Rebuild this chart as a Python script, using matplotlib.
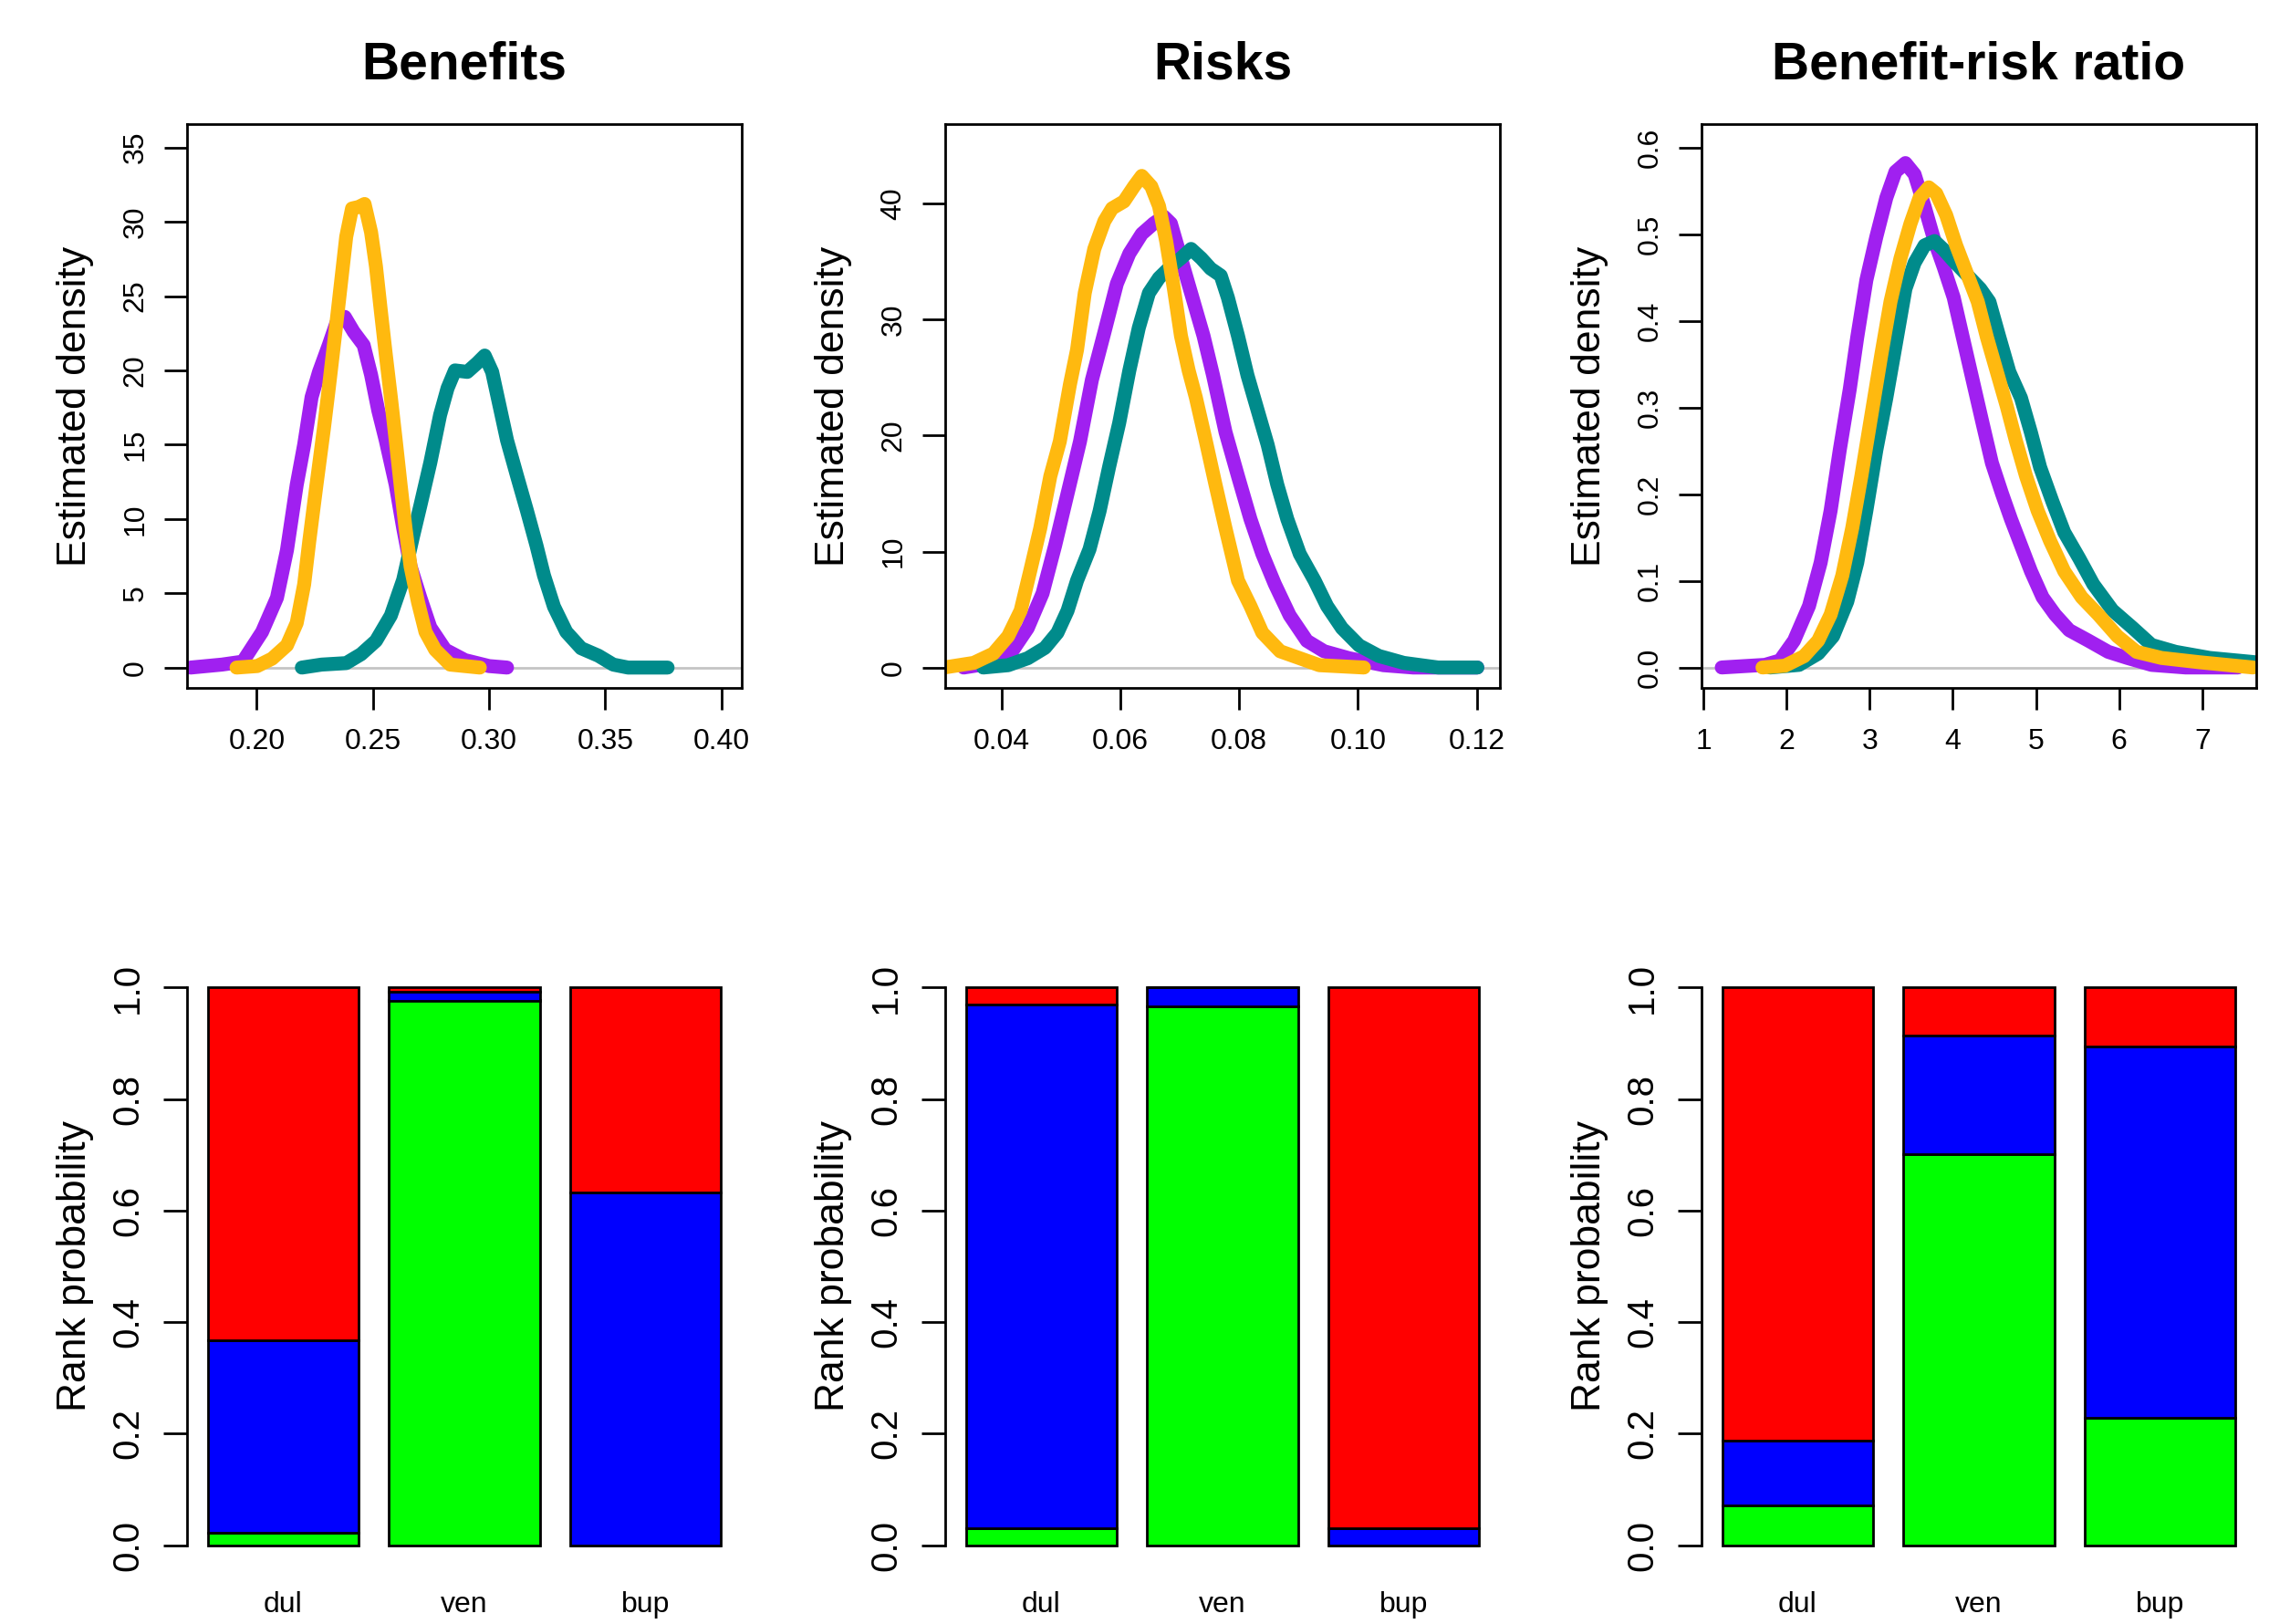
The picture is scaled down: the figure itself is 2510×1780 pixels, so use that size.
import numpy as np
import matplotlib
matplotlib.use("Agg")
import matplotlib.pyplot as plt

plt.rcParams['font.family'] = ['Liberation Sans', 'DejaVu Sans']

PURPLE = '#A020F0'
ORANGE = '#FFB90F'
TEAL = '#008B8B'

titles = ["Benefits", "Risks", "Benefit-risk ratio"]
treatments = ["dul", "ven", "bup"]

# --- density curves ---
ben_x_purple = [0.1715, 0.185, 0.194, 0.2023, 0.2087, 0.213, 0.2172, 0.2204, 0.2236, 0.2268, 0.231, 0.2343, 0.2379,
                0.2417, 0.246, 0.2492, 0.2523, 0.2555, 0.2598, 0.263, 0.2662, 0.2704, 0.2747, 0.2811, 0.2896, 0.30, 0.3077]
ben_y_purple = [0, 0.2, 0.4, 2.4, 4.7, 7.9, 12.3, 15.0, 18.2, 19.9, 21.7, 23.2, 23.6,
                22.6, 21.7, 19.7, 17.3, 15.3, 12.3, 9.4, 6.8, 4.7, 2.7, 1.2, 0.5, 0.1, 0]
ben_x_orange = [0.1913, 0.2002, 0.2066, 0.213, 0.2172, 0.2204, 0.2226, 0.2257, 0.2289, 0.231, 0.2343, 0.2364, 0.2385,
                0.241, 0.2438, 0.2464, 0.2492, 0.2513, 0.2534, 0.2555, 0.2577, 0.2598, 0.2619, 0.264, 0.2662, 0.2694,
                0.2726, 0.2768, 0.2832, 0.296]
ben_y_orange = [0, 0.1, 0.6, 1.5, 3.0, 5.6, 8.5, 12.3, 16.1, 18.8, 23.2, 26.1, 29.0,
                30.9, 31.0, 31.2, 29.3, 27.0, 24.0, 21.1, 18.2, 15.3, 12.3, 9.4, 6.8, 4.4,
                2.4, 1.2, 0.2, 0]
ben_x_teal = [0.2194, 0.2279, 0.2385, 0.2449, 0.2513, 0.2577, 0.263, 0.2672, 0.2704, 0.2747, 0.2789, 0.2821, 0.2853,
              0.2906, 0.2949, 0.2981, 0.3013, 0.3045, 0.3077, 0.312, 0.3162, 0.3204, 0.3236, 0.3279, 0.3332, 0.3396,
              0.347, 0.3534, 0.3598, 0.3768]
ben_y_teal = [0, 0.2, 0.3, 0.9, 1.8, 3.5, 5.9, 8.8, 10.9, 13.8, 17.0, 18.8, 20.0,
              19.9, 20.5, 21.0, 19.9, 17.6, 15.3, 12.9, 10.6, 8.2, 6.2, 4.1, 2.4, 1.3,
              0.8, 0.2, 0, 0]

risk_x_orange = [0.0303, 0.0353, 0.0386, 0.0411, 0.0432, 0.0448, 0.0465, 0.0482, 0.0498, 0.0515, 0.0527, 0.054,
                 0.0556, 0.0573, 0.0586, 0.0606, 0.0623, 0.0636, 0.0652, 0.0665, 0.0677, 0.069, 0.0702, 0.0715,
                 0.0727, 0.0744, 0.076, 0.0777, 0.0798, 0.0819, 0.0839, 0.0869, 0.0902, 0.0935, 0.101]
risk_y_orange = [0, 0.4, 1.2, 2.7, 4.9, 8.3, 12.0, 16.5, 19.5, 24.4, 27.4, 32.3,
                 36.1, 38.5, 39.6, 40.2, 41.5, 42.4, 41.5, 39.8, 36.8, 32.7, 28.6, 25.6,
                 23.3, 19.5, 15.8, 12.0, 7.5, 5.3, 3.0, 1.4, 0.8, 0.2, 0]
risk_x_purple = [0.0336, 0.0386, 0.0419, 0.0444, 0.0469, 0.049, 0.0511, 0.0532, 0.0552, 0.0573, 0.0594, 0.0615,
                 0.0636, 0.0656, 0.0673, 0.0685, 0.0702, 0.0723, 0.074, 0.0756, 0.0777, 0.0798, 0.0819, 0.0839,
                 0.086, 0.0885, 0.0914, 0.0943, 0.0985, 0.1043, 0.1093, 0.1201]
risk_y_purple = [0, 0.4, 1.5, 3.4, 6.4, 10.5, 15.0, 19.5, 24.8, 28.9, 33.1, 35.7,
                 37.4, 38.3, 38.9, 38.3, 35.3, 31.6, 28.6, 25.2, 20.3, 16.5, 12.8, 9.8,
                 7.2, 4.5, 2.3, 1.4, 0.8, 0.2, 0, 0]
risk_x_teal = [0.0369, 0.0411, 0.0444, 0.0473, 0.0494, 0.0511, 0.0527, 0.0548, 0.0565, 0.0581, 0.0598, 0.0615,
               0.0631, 0.0648, 0.0665, 0.0685, 0.0702, 0.0719, 0.0736, 0.0752, 0.0769, 0.0781, 0.0798, 0.0814,
               0.0831, 0.0848, 0.0864, 0.0881, 0.0902, 0.0927, 0.0948, 0.0973, 0.1002, 0.1035, 0.1077, 0.1135, 0.1201]
risk_y_teal = [0, 0.2, 0.8, 1.7, 3.0, 4.9, 7.5, 10.2, 13.5, 17.3, 21.1, 25.6,
               29.3, 32.3, 33.6, 34.6, 35.3, 36.1, 35.3, 34.4, 33.8, 31.9, 28.6, 25.2,
               22.2, 19.2, 15.8, 12.8, 9.8, 7.5, 5.3, 3.4, 1.9, 1.0, 0.4, 0, 0]

ratio_x_purple = [1.22, 1.74, 1.92, 2.09, 2.27, 2.41, 2.53, 2.64, 2.76, 2.85, 2.96, 3.08, 3.20, 3.31, 3.43, 3.54,
                  3.66, 3.78, 3.89, 4.01, 4.12, 4.24, 4.36, 4.47, 4.59, 4.70, 4.82, 4.94, 5.08, 5.23, 5.40, 5.63,
                  5.87, 6.10, 6.39, 6.80, 7.43]
ratio_y_purple = [0, 0.003, 0.008, 0.031, 0.071, 0.121, 0.181, 0.251, 0.321, 0.381, 0.447, 0.497, 0.542, 0.572,
                  0.582, 0.569, 0.532, 0.492, 0.462, 0.427, 0.381, 0.331, 0.281, 0.236, 0.201, 0.171, 0.141,
                  0.111, 0.081, 0.061, 0.043, 0.031, 0.018, 0.011, 0.003, 0, 0]
ratio_x_orange = [1.71, 1.98, 2.21, 2.38, 2.53, 2.67, 2.79, 2.90, 3.02, 3.14, 3.25, 3.37, 3.49, 3.60, 3.71, 3.80,
                  3.92, 4.04, 4.18, 4.30, 4.41, 4.53, 4.65, 4.76, 4.88, 5.02, 5.17, 5.34, 5.55, 5.75, 5.98, 6.21,
                  6.51, 6.97, 7.61]
ratio_y_orange = [0, 0.002, 0.013, 0.031, 0.061, 0.106, 0.161, 0.221, 0.291, 0.361, 0.422, 0.472, 0.512, 0.542,
                  0.554, 0.547, 0.522, 0.487, 0.452, 0.422, 0.381, 0.341, 0.301, 0.261, 0.221, 0.181, 0.146,
                  0.111, 0.081, 0.061, 0.036, 0.018, 0.011, 0.006, 0]
ratio_x_teal = [1.80, 2.15, 2.38, 2.56, 2.73, 2.85, 2.96, 3.08, 3.20, 3.31, 3.43, 3.54, 3.66, 3.78, 3.89, 4.01,
                4.18, 4.33, 4.44, 4.56, 4.68, 4.82, 4.94, 5.05, 5.20, 5.34, 5.52, 5.69, 5.92, 6.16, 6.39, 6.68,
                7.09, 7.64]
ratio_y_teal = [0, 0.003, 0.016, 0.036, 0.076, 0.121, 0.181, 0.251, 0.311, 0.371, 0.437, 0.467, 0.487, 0.492,
                0.482, 0.469, 0.452, 0.437, 0.422, 0.381, 0.341, 0.311, 0.271, 0.231, 0.191, 0.156, 0.126,
                0.096, 0.066, 0.046, 0.026, 0.018, 0.011, 0.006]

# --- rank probabilities (rank 1 green, rank 2 blue, rank 3 red), per treatment dul/ven/bup ---
ben_rank1 = [0.022, 0.977, 0.0]
ben_rank2 = [0.346, 0.016, 0.633]
ben_rank3 = [0.632, 0.007, 0.367]
risk_rank1 = [0.031, 0.967, 0.0]
risk_rank2 = [0.938, 0.033, 0.031]
risk_rank3 = [0.031, 0.0, 0.969]
ratio_rank1 = [0.072, 0.702, 0.229]
ratio_rank2 = [0.115, 0.212, 0.666]
ratio_rank3 = [0.813, 0.086, 0.105]

# axis settings for the density panels
xlims = [(0.170, 0.4087), (0.0305, 0.1239), (0.977, 7.65)]
ylims = [(-1.37, 36.58), (-1.76, 46.87), (-0.0236, 0.627)]
xticks = [[0.20, 0.25, 0.30, 0.35, 0.40], [0.04, 0.06, 0.08, 0.10, 0.12], [1, 2, 3, 4, 5, 6, 7]]
xfmt = ["%.2f", "%.2f", "%d"]
yticks = [[0, 5, 10, 15, 20, 25, 30, 35], [0, 10, 20, 30, 40], [0.0, 0.1, 0.2, 0.3, 0.4, 0.5, 0.6]]
yfmt = ["%d", "%d", "%.1f"]

curves = [
    [(ben_x_purple, ben_y_purple, PURPLE), (ben_x_teal, ben_y_teal, TEAL), (ben_x_orange, ben_y_orange, ORANGE)],
    [(risk_x_purple, risk_y_purple, PURPLE), (risk_x_teal, risk_y_teal, TEAL), (risk_x_orange, risk_y_orange, ORANGE)],
    [(ratio_x_purple, ratio_y_purple, PURPLE), (ratio_x_teal, ratio_y_teal, TEAL),
     (ratio_x_orange, ratio_y_orange, ORANGE)],
]
ranks = [
    (ben_rank1, ben_rank2, ben_rank3),
    (risk_rank1, risk_rank2, risk_rank3),
    (ratio_rank1, ratio_rank2, ratio_rank3),
]

W, H = 2510, 1780
fig = plt.figure(figsize=(W / 100, H / 100), dpi=100)

lefts = [205, 1036, 1865]
axw = 608


def plotDensity(ax, i):
    ax.axhline(0, color='#C4C4C4', lw=2, zorder=1)
    for xs, ys, col in curves[i]:
        ax.plot(xs, ys, color=col, lw=11, solid_capstyle='round', solid_joinstyle='round', zorder=2)
    ax.set_xlim(*xlims[i])
    ax.set_ylim(*ylims[i])
    ax.set_xticks(xticks[i])
    ax.set_xticklabels([xfmt[i] % v for v in xticks[i]])
    ax.set_yticks(yticks[i])
    ax.set_yticklabels([yfmt[i] % v for v in yticks[i]], rotation=90, va='center')
    ax.tick_params(axis='x', length=17, width=2, labelsize=23, pad=15)
    ax.tick_params(axis='y', length=18, width=2, labelsize=23, pad=12)
    for sp in ax.spines.values():
        sp.set_linewidth(2)
    ax.text(-0.202, 0.5, "Estimated density", rotation=90, ha='center', va='center',
            fontsize=32, transform=ax.transAxes)
    ax.text(0.5, 1 + 64 / 616, titles[i], ha='center', va='center', fontsize=41,
            fontweight='bold', transform=ax.transAxes)


def plotRanks(ax, i):
    r1, r2, r3 = ranks[i]
    pos = np.array([0.7, 1.9, 3.1])
    r1 = np.array(r1)
    r2 = np.array(r2)
    r3 = np.array(r3)
    kw = dict(width=1.0, edgecolor='black', linewidth=2)
    ax.bar(pos, r1, color='#00FF00', **kw)
    ax.bar(pos, r2, bottom=r1, color='#0000FF', **kw)
    ax.bar(pos, r3, bottom=r1 + r2, color='#FF0000', **kw)
    ax.set_xlim(0.064, 3.736)
    ax.set_ylim(-0.04, 1.04)
    for s in ['top', 'right', 'bottom']:
        ax.spines[s].set_visible(False)
    ax.spines['left'].set_bounds(0, 1)
    ax.spines['left'].set_linewidth(2)
    ax.set_yticks([0.0, 0.2, 0.4, 0.6, 0.8, 1.0])
    ax.set_yticklabels(["%.1f" % v for v in [0.0, 0.2, 0.4, 0.6, 0.8, 1.0]], rotation=90, va='center')
    ax.tick_params(axis='y', length=19, width=2, labelsize=29, pad=14)
    ax.set_xticks(pos)
    ax.set_xticklabels(treatments)
    ax.tick_params(axis='x', length=0, labelsize=23, pad=19)
    ax.text(-0.202, 0.5, "Rank probability", rotation=90, ha='center', va='center',
            fontsize=32, transform=ax.transAxes)


for i in range(3):
    ax = fig.add_axes([lefts[i] / W, 1 - 754 / H, axw / W, (754 - 136) / H])
    plotDensity(ax, i)
    ax2 = fig.add_axes([lefts[i] / W, 1 - 1718 / H, axw / W, (1718 - 1058) / H])
    plotRanks(ax2, i)

fig.savefig("out.png", dpi=100)
